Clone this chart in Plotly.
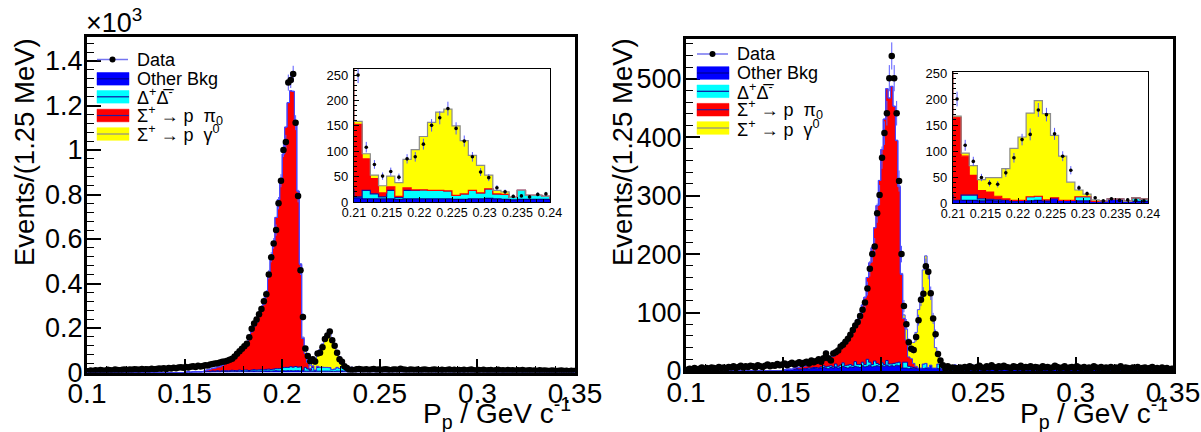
import numpy as np
import plotly.graph_objects as go

# ---------------- binning ----------------
BIN_WIDTH = 0.00125   # 1.25 MeV
X_MIN = 0.1
X_MAX = 0.35
N_BINS = 200

# ---------------- left panel values (counts per bin) ----------------
left_data = [
    6, 9, 7, 10, 8, 11, 9, 8, 12, 10, 9, 13, 11, 10, 12, 14, 11, 13, 12, 15,
    13, 12, 16, 14, 15, 13, 17, 15, 16, 18, 17, 19, 16, 20, 18, 21, 19, 22, 24, 21,
    25, 23, 26, 28, 25, 30, 27, 29, 33, 31, 36, 38, 40, 42, 45, 48,
    50, 53, 57, 62, 72, 84, 96, 107, 118, 129,
    158, 197, 220, 238, 262, 285, 320, 352, 440, 518,
    580, 640, 761, 862, 1000, 1036, 1303, 1315, 1342, 1123,
    793, 460, 250, 108, 74, 51, 60, 49, 85, 89,
    114, 151, 166, 184, 145, 120, 89, 59, 48, 28,
    20, 11, 12, 10, 15, 16,
    14, 12, 15, 11, 13, 16, 12, 14, 11, 13, 15, 12, 10, 14, 13, 11, 17, 13, 12, 10,
    14, 12, 11, 13, 10, 12, 14, 11, 10, 12, 13, 11, 9, 12, 10, 11, 13, 10, 12, 9,
    11, 10, 12, 9, 11, 13, 10, 9, 11, 10, 12, 9, 10, 11, 8, 10, 12, 9, 10, 8,
    11, 9, 10, 8, 10, 9, 11, 8, 9, 10, 8, 9, 7, 10, 8, 9, 8, 7, 9, 8,
    7, 8, 9, 7, 8, 6, 8, 7,
]
left_blue_start = 0.15
left_blue = [
    1, 2, 1, 2, 2, 3, 2, 3,
    3, 4, 3, 4, 4, 5, 4, 5, 5, 4, 5, 6, 5, 5, 6, 5, 6, 6, 5, 6, 7, 6, 6, 7, 6, 7, 7, 6, 7, 8, 7, 7,
    8, 7, 8, 8, 7, 8, 8, 7,
    8, 6, 6, 6, 6, 5, 6, 6, 6, 6, 6, 6, 5, 5, 6, 6, 7, 6, 5, 4, 5, 5, 5, 5,
    4, 5, 4, 3, 4, 4, 3, 4, 3, 4, 3, 3, 4, 3, 5, 4, 3, 3, 4, 3,
    3, 4, 3, 3, 2, 3, 3, 4, 3, 3, 2, 3, 3, 2, 3, 4, 3, 2, 3, 3,
    2, 3, 2, 3, 3, 2, 3, 2, 2, 3, 3, 2, 2, 3, 2, 2, 3, 2, 2, 2,
    3, 2, 2, 2, 3, 2, 2, 1, 2, 2, 2, 3, 2, 1, 2, 2, 2, 1, 2, 2,
    1, 2, 2, 1, 2, 1, 2, 1,
]
left_cyan_start = 0.15
left_cyan = [
    0, 1, 0, 1, 1, 0, 1, 1,
    2, 1, 2, 3, 2, 3, 2, 3, 3, 4, 3, 4, 4, 3, 5, 4, 5, 5, 4, 5, 6, 5, 6, 7, 6, 7, 8, 7, 8, 9, 10, 11,
    14, 16, 15, 18, 17, 19, 16, 18,
    2, 17, 10, 4, 17, 4, 17, 17, 18, 17, 17, 16, 8, 11, 17, 12, 19, 10, 10, 5, 18, 8, 8, 6,
    3, 4, 2, 3, 5, 3, 2, 4, 3, 2, 3, 2, 4, 3, 2, 3, 8, 4, 2, 3,
    2, 3, 2, 5, 2, 3, 2, 2, 3, 2, 2, 3, 2, 2, 3, 2, 1, 2, 3, 2,
    2, 1, 2, 2, 3, 2, 1, 2, 2, 1, 2, 2, 1, 2, 3, 2, 1, 2, 2, 1,
    2, 1, 2, 2, 1, 2, 1, 2, 2, 1, 2, 1, 1, 2, 1, 2, 1, 1, 2, 1,
    1, 2, 1, 1, 2, 1, 1, 1,
]
left_red_start = 0.16
left_red = [
    5, 7, 10, 12, 14, 17, 20, 25,
    30, 36, 42, 50, 60, 70, 82, 95, 110, 125,
    150, 172, 195, 215, 240, 262, 295, 340, 420, 500,
    560, 680, 760, 850, 960, 1080, 1190, 1240, 1240, 1090,
    790, 460, 143, 62, 30, 8, 7, 2, 5, 1,
]
left_yellow_start = 0.2075
left_yellow = [2, 4, 6, 10, 7, 14, 21, 27, 56, 79, 105, 134, 154, 161, 137, 105, 69, 54, 27, 7, 5, 0]

# ---------------- right panel values ----------------
right_data = [
    2, 4, 3, 5, 2, 4, 6, 3, 5, 4, 6, 5, 3, 7, 5, 6, 4, 7, 6, 8,
    5, 7, 9, 6, 8, 7, 9, 8, 6, 10, 8, 7, 9, 11, 8, 10, 9, 12, 10, 11,
    13, 10, 12, 14, 11, 13, 15, 12, 14, 16, 13, 18, 15, 17, 20, 16,
    22, 30, 22, 18, 30, 32, 35, 42, 45, 50,
    55, 62, 70, 78, 84, 94, 105, 117, 141, 175,
    200, 213, 270, 301, 365, 407, 441, 501, 539, 501,
    441, 325, 200, 111, 80, 49, 38, 36, 58, 87,
    122, 132, 179, 170, 133, 90, 63, 29, 18, 10,
    4, 8, 5, 6, 5, 4,
    6, 5, 7, 4, 8, 6, 5, 7, 9, 6, 5, 8, 6, 10, 7, 5, 8, 6, 9, 7,
    6, 5, 8, 7, 6, 9, 5, 7, 6, 8, 5, 7, 6, 4, 8, 6, 7, 5, 6, 9,
    7, 5, 6, 8, 4, 6, 7, 5, 8, 6, 5, 7, 4, 6, 5, 8, 6, 5, 7, 4,
    6, 5, 7, 4, 6, 5, 8, 4, 6, 5, 4, 6, 5, 7, 4, 5, 6, 4, 5, 7,
    4, 5, 3, 6, 4, 5, 3, 4,
]
right_blue_start = 0.15
right_blue = [
    2, 2, 3, 2, 3, 3, 2, 3,
    3, 4, 3, 4, 5, 4, 4, 5, 6, 5, 4, 6, 5, 7, 5, 6, 8, 6, 5, 7, 6, 8, 7, 6, 9, 7, 8, 10, 7, 8, 9, 8,
    9, 8, 10, 8, 9, 8, 10, 9,
    5, 5, 5, 4, 5, 4, 5, 4, 5, 4, 5, 4, 10, 5, 5, 4, 4, 3, 4, 8, 8, 3, 3, 3,
    4, 3, 5, 3, 4, 6, 3, 4, 3, 5, 4, 3, 4, 6, 3, 4, 3, 5, 3, 4,
    3, 4, 3, 3, 5, 3, 4, 3, 3, 4, 3, 5, 3, 4, 3, 3, 4, 3, 5, 3,
    3, 4, 3, 3, 4, 3, 3, 5, 3, 3, 4, 3, 3, 4, 3, 3, 3, 4, 3, 3,
    3, 4, 3, 3, 3, 4, 3, 2, 3, 3, 4, 3, 3, 2, 3, 3, 4, 3, 2, 3,
    3, 2, 3, 3, 2, 3, 2, 3,
]
right_cyan_start = 0.15
right_cyan = [
    0, 1, 0, 1, 0, 1, 1, 0,
    1, 0, 2, 1, 1, 2, 1, 2, 3, 2, 4, 3, 2, 5, 3, 4, 6, 3, 5, 4, 3, 8, 4, 5, 6, 4, 12, 5, 4, 9, 4, 3,
    5, 3, 8, 4, 3, 5, 4, 6,
    0, 10, 10, 4, 2, 2, 0, 0, 0, 8, 8, 2, 0, 0, 0, 8, 8, 0, 0, 0, 0, 0, 7, 5,
    2, 1, 3, 1, 2, 4, 1, 2, 1, 3, 1, 2, 6, 1, 2, 1, 3, 5, 1, 2,
    1, 2, 1, 1, 3, 1, 2, 1, 4, 1, 1, 2, 1, 1, 2, 1, 1, 3, 1, 1,
    2, 1, 1, 2, 1, 1, 1, 3, 1, 1, 1, 2, 1, 1, 1, 2, 1, 1, 1, 1,
    2, 1, 1, 1, 2, 1, 1, 4, 1, 1, 1, 2, 1, 1, 1, 1, 2, 1, 3, 1,
    1, 1, 2, 1, 1, 1, 1, 1,
]
right_red_start = 0.155
right_red = [
    2, 3, 3, 4, 4, 5, 5, 6, 7, 8, 8, 9,
    10, 12, 14, 16, 18, 20, 25, 30, 35, 40,
    45, 52, 58, 65, 75, 85, 98, 115, 140, 170,
    200, 228, 270, 315, 365, 420, 465, 455, 475, 440,
    380, 300, 160, 75, 38, 16, 14, 7, 3, 1,
]
right_yellow_start = 0.2075
right_yellow = [1, 2, 2, 6, 19, 21, 28, 36, 58, 100, 122, 161, 184, 166, 120, 85, 35, 13, 5, 3, 0]

# ---------------- tick labels ----------------
main_x_tickvals = [0.1, 0.15, 0.2, 0.25, 0.3, 0.35]
main_x_ticktext = ["0.1", "0.15", "0.2", "0.25", "0.3", "0.35"]
left_y_tickvals = [0, 200, 400, 600, 800, 1000, 1200, 1400]
left_y_ticktext = ["0", "0.2", "0.4", "0.6", "0.8", "1", "1.2", "1.4"]
right_y_tickvals = [0, 100, 200, 300, 400, 500]
right_y_ticktext = ["0", "100", "200", "300", "400", "500"]
inset_x_tickvals = [0.21, 0.215, 0.22, 0.225, 0.23, 0.235, 0.24]
inset_x_ticktext = ["0.21", "0.215", "0.22", "0.225", "0.23", "0.235", "0.24"]
inset_y_tickvals = [0, 50, 100, 150, 200, 250]
inset_y_ticktext = ["0", "50", "100", "150", "200", "250"]

legend_labels = ["Data", "Other Bkg", "Δ<sup>+</sup>Δ\u0305<sup>-</sup>",
                 "Σ<sup>+</sup> → p  π<sub>0</sub>", "Σ<sup>+</sup> → p  γ<sup>0</sup>"]

# ---------------- styling ----------------
W, H = 1201, 432
FONT = "Liberation Sans, Arial, Helvetica, sans-serif"
FILL = {"blue": "#0000ff", "cyan": "#00ffff", "red": "#ff0000", "yellow": "#ffff00"}
LINE_MAIN = {"blue": "#000090", "cyan": "#0000b0", "red": "#3030ff", "yellow": "#4848ff"}
LINE_INSET = {"blue": "#000090", "cyan": "#1010a0", "red": "#ff0000", "yellow": "#8c8c8c"}
ERR_COLOR = "#5a5aff"

edges = X_MIN + BIN_WIDTH * np.arange(N_BINS + 1)
centers = 0.5 * (edges[:-1] + edges[1:])


def expand(start, vals):
    full = np.zeros(N_BINS)
    i0 = int(round((start - X_MIN) / BIN_WIDTH))
    v = np.asarray(vals, dtype=float)[: N_BINS - i0]
    full[i0:i0 + len(v)] = v
    return full


fig = go.Figure()


def add_panel(data, comps, xa, ya, inset):
    cum = np.zeros(N_BINS)
    for k, (vals, key) in enumerate(comps):
        cum = cum + vals
        lc = (LINE_INSET if inset else LINE_MAIN)[key]
        fig.add_trace(go.Scatter(
            x=edges, y=np.append(cum, cum[-1]), mode="lines",
            line=dict(shape="hv", color=lc, width=1.2 if inset else 1),
            fill="tozeroy" if k == 0 else "tonexty", fillcolor=FILL[key],
            xaxis=xa, yaxis=ya, showlegend=False, hoverinfo="skip"))
    d = np.asarray(data, dtype=float)
    fig.add_trace(go.Scatter(
        x=centers, y=d, mode="markers",
        marker=dict(color="black", size=3.6 if inset else 6.5),
        error_y=dict(type="data", array=np.sqrt(d), color=ERR_COLOR,
                     thickness=1, width=0),
        xaxis=xa, yaxis=ya, showlegend=False, hoverinfo="skip"))


left_comps = [(expand(left_blue_start, left_blue), "blue"),
              (expand(left_cyan_start, left_cyan), "cyan"),
              (expand(left_red_start, left_red), "red"),
              (expand(left_yellow_start, left_yellow), "yellow")]
right_comps = [(expand(right_blue_start, right_blue), "blue"),
               (expand(right_cyan_start, right_cyan), "cyan"),
               (expand(right_red_start, right_red), "red"),
               (expand(right_yellow_start, right_yellow), "yellow")]
ld = expand(X_MIN, left_data)
rd = expand(X_MIN, right_data)

add_panel(ld, left_comps, "x", "y", False)
add_panel(ld, left_comps, "x2", "y2", True)
add_panel(rd, right_comps, "x3", "y3", False)
add_panel(rd, right_comps, "x4", "y4", True)


def px(xp):
    return xp / W


def py(yp):
    return 1 - yp / H


COMMON = dict(showgrid=False, zeroline=False, automargin=False, mirror=True,
              showline=True, linecolor="black", ticks="inside", tickcolor="black",
              tickangle=0)


def main_x(domain, anchor):
    return dict(COMMON, domain=domain, anchor=anchor, range=[X_MIN, X_MAX],
                tickmode="array", tickvals=main_x_tickvals, ticktext=main_x_ticktext,
                ticklen=14, tickwidth=1.5, linewidth=3, ticklabelstandoff=-6,
                minor=dict(tickmode="array", tickvals=list(np.round(np.arange(0.11, 0.35, 0.01), 3)),
                           ticks="inside", ticklen=7, tickwidth=1.2, tickcolor="black"),
                tickfont=dict(family=FONT, size=28, color="black"))


def main_y(domain, anchor, rng, tv, tt, minor_step):
    return dict(COMMON, domain=domain, anchor=anchor, range=rng,
                tickmode="array", tickvals=tv, ticktext=tt,
                ticklen=14, tickwidth=1.5, linewidth=3, ticklabelstandoff=-4,
                minor=dict(tickmode="array",
                           tickvals=[v for v in np.arange(0, rng[1], minor_step) if v not in tv],
                           ticks="inside", ticklen=7, tickwidth=1.2, tickcolor="black"),
                tickfont=dict(family=FONT, size=27, color="black"))


def inset_x(domain, anchor):
    return dict(COMMON, domain=domain, anchor=anchor, range=[0.21, 0.24],
                tickmode="array", tickvals=inset_x_tickvals, ticktext=inset_x_ticktext,
                ticklen=5, tickwidth=1, linewidth=1.3, ticklabelstandoff=-1,
                minor=dict(tickmode="array", tickvals=list(np.round(np.arange(0.211, 0.24, 0.001), 4)),
                           ticks="inside", ticklen=2.5, tickwidth=0.8, tickcolor="black"),
                tickfont=dict(family=FONT, size=12.5, color="black"))


def inset_y(domain, anchor, top):
    return dict(COMMON, domain=domain, anchor=anchor, range=[0, top],
                tickmode="array", tickvals=inset_y_tickvals, ticktext=inset_y_ticktext,
                ticklen=5, tickwidth=1, linewidth=1.3, ticklabelstandoff=2,
                minor=dict(tickmode="array", tickvals=[v for v in range(10, int(top), 10) if v % 50],
                           ticks="inside", ticklen=2.5, tickwidth=0.8, tickcolor="black"),
                tickfont=dict(family=FONT, size=13, color="black"))


fig.update_layout(
    template="none",
    width=W, height=H, autosize=False,
    margin=dict(l=0, r=0, t=0, b=0, pad=0),
    paper_bgcolor="white", plot_bgcolor="white",
    showlegend=False,
    xaxis=main_x([px(87), px(575)], "y"),
    yaxis=main_y([py(372.5), py(37)], "x", [0, 1508], left_y_tickvals, left_y_ticktext, 40),
    xaxis2=inset_x([px(354), px(550)], "y2"),
    yaxis2=inset_y([py(202), py(69)], "x2", 262),
    xaxis3=main_x([px(686), px(1173)], "y3"),
    yaxis3=main_y([py(371), py(39)], "x3", [0, 568], right_y_tickvals, right_y_ticktext, 20),
    xaxis4=inset_x([px(953), px(1148)], "y4"),
    yaxis4=inset_y([py(203), py(72)], "x4", 252),
)

shapes = []
annotations = []


def legend(x0, y_rows):
    keys = ["blue", "cyan", "red", "yellow"]
    yd = y_rows[0]
    shapes.append(dict(type="line", xref="paper", yref="paper",
                       x0=px(x0), x1=px(x0 + 31), y0=py(yd), y1=py(yd),
                       line=dict(color="#7474f0", width=1.5)))
    shapes.append(dict(type="circle", xref="paper", yref="paper",
                       x0=px(x0 + 12.5), x1=px(x0 + 18.5), y0=py(yd + 3), y1=py(yd - 3),
                       fillcolor="black", line=dict(color="black", width=0)))
    for key, yc in zip(keys, y_rows[1:]):
        shapes.append(dict(type="rect", xref="paper", yref="paper",
                           x0=px(x0), x1=px(x0 + 32), y0=py(yc + 6.3), y1=py(yc - 6.3),
                           fillcolor=FILL[key], line=dict(color=FILL[key], width=0.5)))
        shapes.append(dict(type="line", xref="paper", yref="paper",
                           x0=px(x0), x1=px(x0 + 32), y0=py(yc), y1=py(yc),
                           line=dict(color=LINE_INSET[key] if key != "red" else "#2020a0", width=1.2)))
    for lab, yc in zip(legend_labels, y_rows):
        annotations.append(dict(xref="paper", yref="paper", x=px(x0 + 38), y=py(yc),
                                xanchor="left", yanchor="middle", showarrow=False,
                                text=lab, font=dict(family=FONT, size=18, color="black")))


legend(97, [59.5, 78.8, 96.8, 115.5, 134])
legend(697, [54, 73, 91.3, 109.7, 128])

ytitle = "Events/(1.25 MeV)"
xtitle = "P<sub>p</sub> / GeV c<sup>-1</sup>"
for xc in (24, 622):
    annotations.append(dict(xref="paper", yref="paper", x=px(xc), y=py(36),
                            xanchor="center", yanchor="top", textangle=-90, showarrow=False,
                            text=ytitle, font=dict(family=FONT, size=27.5, color="black")))
for xr in (573, 1170):
    annotations.append(dict(xref="paper", yref="paper", x=px(xr), y=py(413),
                            xanchor="right", yanchor="middle", showarrow=False,
                            text=xtitle, font=dict(family=FONT, size=28, color="black")))
annotations.append(dict(xref="paper", yref="paper", x=px(84), y=py(2),
                        xanchor="left", yanchor="top", showarrow=False,
                        text="×10<sup>3</sup>", font=dict(family=FONT, size=27, color="black")))

fig.update_layout(shapes=shapes, annotations=annotations)
fig.write_html("out.html")
